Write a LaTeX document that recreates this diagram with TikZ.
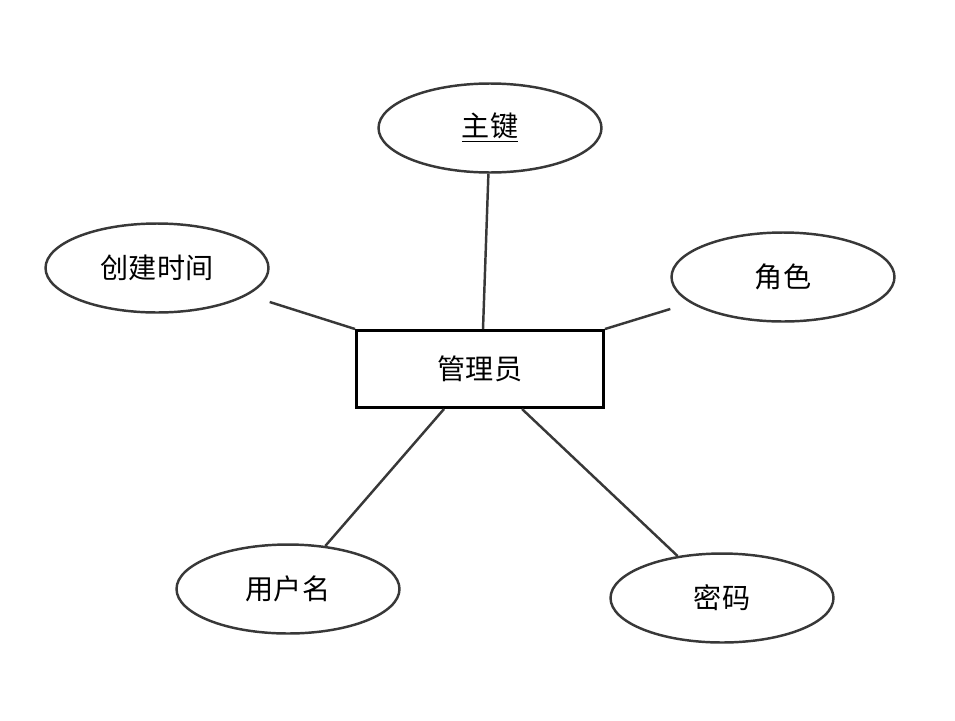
\documentclass[tikz,border=0pt]{standalone}
\usepackage{fontspec}
\setmainfont{Noto Sans CJK SC}
\usetikzlibrary{shapes.geometric, positioning}
\definecolor{linegray}{HTML}{383838}

\begin{document}
\begin{tikzpicture}[x=0.02cm, y=-0.02cm,
    attr/.style={ellipse, draw=linegray, line width=1.4pt, minimum width=4.46cm, minimum height=1.78cm, inner sep=0pt, font=\fontsize{16}{18}\selectfont},
    entity/.style={rectangle, draw=black, line width=1.7pt, minimum width=4.94cm, minimum height=1.54cm, inner sep=0pt, font=\fontsize{16}{18}\selectfont},
    link/.style={draw=linegray, line width=1.4pt}]
                \useasboundingbox (0,0) rectangle (955,720);

                % Entity
                \node[entity] (admin) at (480,369) {管理员};

                % Attributes
                \node[attr] (key) at (490,128) {\underline{主键}};
                \node[attr] (ctime) at (157,268) {创建时间};
                \node[attr] (role) at (783,277) {角色};
                \node[attr] (uname) at (288,589) {用户名};
                \node[attr] (pwd) at (722,598) {密码};

                % Links
                \draw[link] (key) -- ([xshift=0.06cm]admin.north);
                \draw[link] ([yshift=-0.68cm]ctime.east) -- (admin.north west);
                \draw[link] ([yshift=-0.64cm]role.west) -- (admin.north east);
                \draw[link] (uname) -- ([xshift=-0.72cm]admin.south);
                \draw[link] (pwd) -- ([xshift=0.84cm]admin.south);
            \end{tikzpicture}
\end{document}
